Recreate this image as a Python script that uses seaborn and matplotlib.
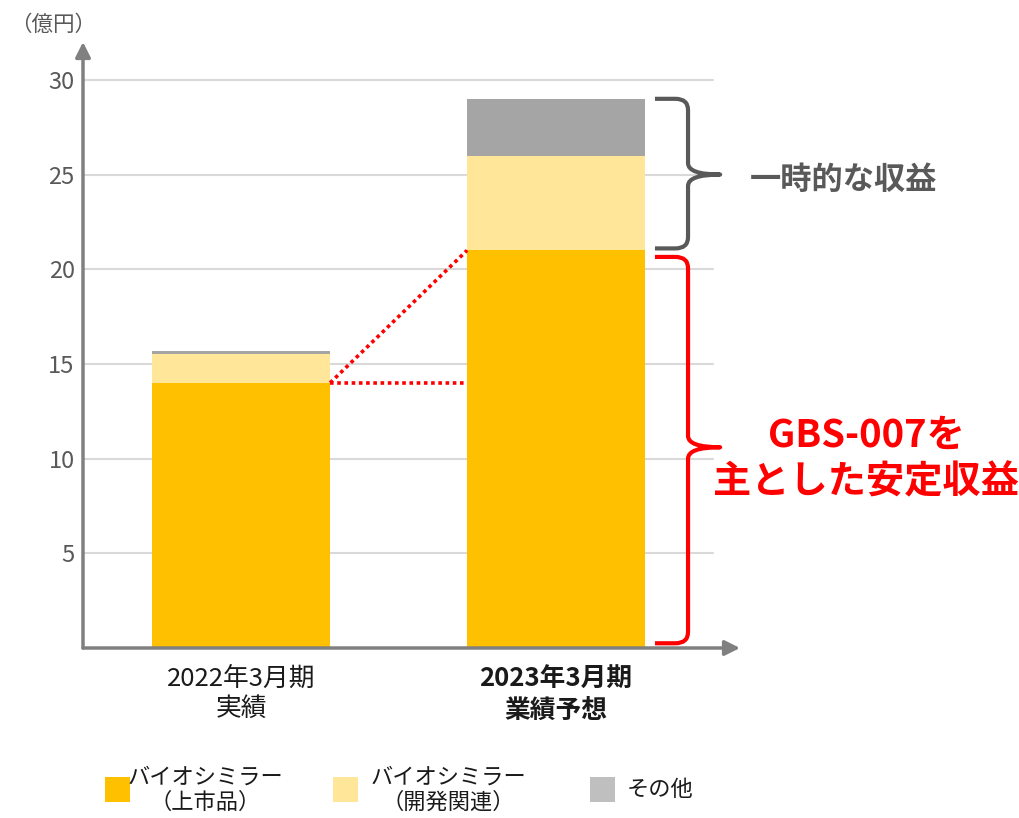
import matplotlib
matplotlib.use('Agg')
import matplotlib.pyplot as plt
from matplotlib.path import Path
from matplotlib.patches import PathPatch, Rectangle
import seaborn as sns
import pandas as pd

# データ（億円）
periods = ['2022年3月期\n実績', '2023年3月期\n業績予想']
biosimilar_launched = [14.0, 21.0]
biosimilar_dev = [1.5, 5.0]
others = [0.2, 3.0]

legend_labels = ['バイオシミラー\n（上市品）', 'バイオシミラー\n（開発関連）', 'その他']
y_ticks = [5, 10, 15, 20, 25, 30]

c_launched = '#FFC000'
c_dev = '#FFE699'
c_other = '#A5A5A5'
c_other_legend = '#BFBFBF'

sns.set_style('white')
plt.rcParams['font.family'] = ['Noto Sans CJK JP', 'DejaVu Sans']

df = pd.DataFrame({'period': periods,
                   'launched': biosimilar_launched,
                   'dev': biosimilar_dev,
                   'other': others})
df['cum_dev'] = df['launched'] + df['dev']
df['cum_other'] = df['cum_dev'] + df['other']

fig = plt.figure(figsize=(10.2, 8.18), dpi=100)
ax = fig.add_axes([83 / 1020, 1 - 648 / 818, 657 / 1020, 606 / 818])

bw = 0.565
for col, c in [('cum_other', c_other), ('cum_dev', c_dev), ('launched', c_launched)]:
    sns.barplot(data=df, x='period', y=col, color=c, width=bw, saturation=1,
                errorbar=None, ax=ax, zorder=3, linewidth=0)

ax.set_xlim(-0.502, 1.584)
ax.set_ylim(0, 32)
for s in ax.spines.values():
    s.set_visible(False)

# グリッド線
for t in y_ticks:
    ax.axhline(t, xmin=0, xmax=0.959, color='#D9D9D9', lw=1.5, zorder=1)

ax.set_yticks(y_ticks)
ax.set_yticklabels([str(t) for t in y_ticks], fontsize=17, color='#595959')
ax.set_xticks([0, 1])
ax.set_xticklabels(periods, fontsize=18.5, color='#1a1a1a', linespacing=1.2)
ax.get_xticklabels()[1].set_fontweight('bold')
ax.tick_params(axis='both', length=0)
ax.tick_params(axis='y', pad=6)
ax.tick_params(axis='x', pad=13)
ax.set_xlabel('')
ax.set_ylabel('')

# 矢印付きの軸
arrow = dict(arrowstyle='-|>,head_width=0.45,head_length=0.9', color='#808080', lw=2.5,
             shrinkA=0, shrinkB=0)
ax.annotate('', xy=(0, 1), xytext=(0, 0), xycoords='axes fraction', arrowprops=arrow, zorder=5)
ax.annotate('', xy=(1, 0), xytext=(0, 0), xycoords='axes fraction', arrowprops=arrow, zorder=5)

# 点線（成長の強調）
x_r = bw / 2
x_l = 1 - bw / 2
ax.plot([x_r, x_l], [biosimilar_launched[0], biosimilar_launched[0]], color='#FF0000',
        lw=2.6, linestyle=(0, (1, 1)), zorder=4)
ax.plot([x_r, x_l], [biosimilar_launched[0], biosimilar_launched[1]], color='#FF0000',
        lw=2.6, linestyle=(0, (1, 1)), zorder=4)


def brace(ax, x_end, x_mid, x_tip, y_top, y_bot, y_tip, ry, color, lw):
    dx = 0.04
    verts = [(x_end, y_top), (x_mid - dx, y_top),
             (x_mid, y_top), (x_mid, y_top - ry),
             (x_mid, y_tip + ry),
             (x_mid, y_tip), (x_tip, y_tip),
             (x_mid, y_tip), (x_mid, y_tip - ry),
             (x_mid, y_bot + ry),
             (x_mid, y_bot), (x_mid - dx, y_bot),
             (x_end, y_bot)]
    codes = [Path.MOVETO, Path.LINETO,
             Path.CURVE3, Path.CURVE3,
             Path.LINETO,
             Path.CURVE3, Path.CURVE3,
             Path.CURVE3, Path.CURVE3,
             Path.LINETO,
             Path.CURVE3, Path.CURVE3,
             Path.LINETO]
    ax.add_patch(PathPatch(Path(verts, codes), fill=False, edgecolor=color, lw=lw,
                           capstyle='butt', joinstyle='round', clip_on=False, zorder=5))


total_2023 = df['cum_other'][1]
brace(ax, 1.314, 1.419, 1.521, total_2023, biosimilar_launched[1] + 0.1, 25.0, 0.6, '#595959', 3)
brace(ax, 1.314, 1.419, 1.521, biosimilar_launched[1] - 0.35, 0.25, 10.6, 0.6, '#FF0000', 3)

fig.text(750 / 1020, 1 - 180 / 818, '一時的な収益', fontsize=22.5, fontweight='bold',
         color='#595959', ha='left', va='center')
fig.text(866 / 1020, 1 - 459 / 818, 'GBS-007を\n主とした安定収益', fontsize=27.5,
         fontweight='bold', color='#FF0000', ha='center', va='center', linespacing=1.25)

fig.text(10 / 1020, 1 - 25 / 818, '（億円）', fontsize=15.5, color='#595959',
         ha='left', va='center')

# 凡例
leg_items = [(105, c_launched, legend_labels[0], 205),
             (333, c_dev, legend_labels[1], 448),
             (590, c_other_legend, legend_labels[2], 627)]
for px, c, lab, tx in leg_items:
    fig.add_artist(Rectangle((px / 1020, 1 - 802 / 818), 25 / 1020, 25 / 818,
                             facecolor=c, edgecolor='none', transform=fig.transFigure))
    ha = 'center' if '\n' in lab else 'left'
    fig.text(tx / 1020, 1 - 790 / 818, lab, fontsize=16, color='#1a1a1a',
             ha=ha, va='center', linespacing=1.1)

fig.savefig('out.png', dpi=100)
